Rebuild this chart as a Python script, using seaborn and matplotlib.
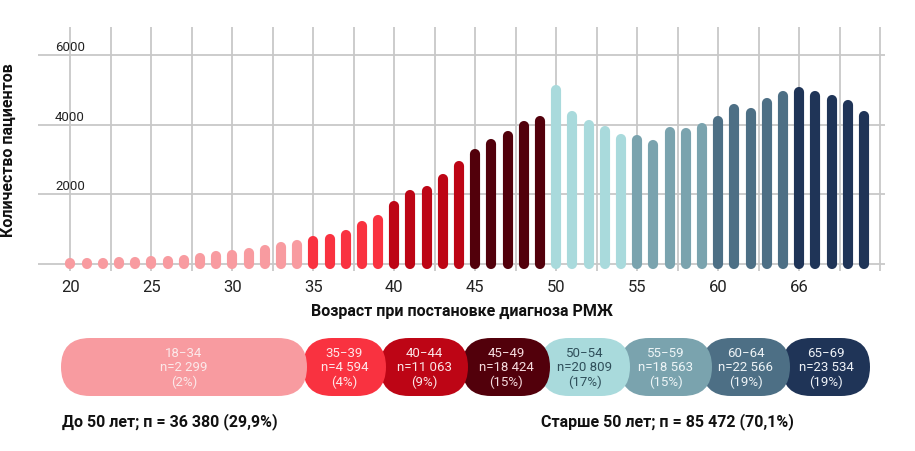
import numpy as np
import pandas as pd
import matplotlib
matplotlib.use("Agg")
import matplotlib.pyplot as plt
from matplotlib.patches import FancyBboxPatch
import seaborn as sns

ages = list(range(20, 70))
counts = [20, 30, 40, 50, 60, 80, 100, 130, 170, 220, 260, 320, 390, 480, 560,
          650, 730, 840, 1100, 1270,
          1680, 1970, 2110, 2430, 2820,
          3170, 3450, 3670, 3970, 4100,
          5000, 4240, 3990, 3830, 3580,
          3550, 3410, 3780, 3760, 3910,
          4120, 4450, 4350, 4640, 4830,
          4930, 4830, 4720, 4570, 4260]
group_labels = ["18−34", "35−39", "40−44", "45−49", "50−54", "55−59", "60−64", "65−69"]
group_n = ["2 299", "4 594", "11 063", "18 424", "20 809", "18 563", "22 566", "23 534"]
group_pct = ["2%", "4%", "9%", "15%", "17%", "15%", "19%", "19%"]
group_colors = ["#f89ba0", "#f93240", "#bd0515", "#52000b", "#a9dadc", "#7aa3ae", "#4d6f85", "#1f3457"]
text_colors = ["#fbe9ea", "#fde7e9", "#fbe5e7", "#f6dcdf", "#2f4f5a", "#eef5f7", "#eef3f6", "#eef2f7"]
xtick_pos = [20, 25, 30, 35, 40, 45, 50, 55, 60, 65]
xtick_labels = ["20", "25", "30", "35", "40", "45", "50", "55", "60", "66"]
ytick_vals = [2000, 4000, 6000]
summary_left = "До 50 лет; п = 36 380 (29,9%)"
summary_right = "Старше 50 лет; п = 85 472 (70,1%)"

def group_of(a):
    if a < 35:
        return 0
    return min((a - 35) // 5 + 1, 7)

df = pd.DataFrame({"age": ages, "count": counts})
df["grp"] = df["age"].apply(group_of)

sns.set_theme(style="white", rc={"font.family": "Roboto"})
fig = plt.figure(figsize=(9.15, 4.52), dpi=100)
ax = fig.add_axes([38/915, 1-272/452, (885-38)/915, 244/452])
ax.set_xlim(18, 70.3)
ax.set_ylim(-200, 6810)

grid_c = "#c8c8c8"
for gx in np.arange(20, 72.6, 2.5):
    ax.axvline(gx, color=grid_c, lw=1.3, zorder=0)
for gy in [0] + ytick_vals:
    ax.axhline(gy, color=grid_c, lw=1.3, zorder=0)

lc = ax.vlines(df["age"], 0, df["count"], colors=[group_colors[g] for g in df["grp"]],
               lw=7.3, zorder=3)
lc.set_capstyle("round")

for v in ytick_vals:
    ax.text(19.05, v + 60, str(v), fontsize=9.5, color="#222222", ha="left", va="bottom")
ax.set_yticks([])
ax.set_xticks(xtick_pos)
ax.set_xticklabels(xtick_labels, fontsize=12, color="#222222")
ax.tick_params(axis="x", length=0, pad=6)
for s in ax.spines.values():
    s.set_visible(False)
ax.set_xlabel("Возраст при постановке диагноза РМЖ", fontsize=11.5, fontweight="bold",
              color="#111111", labelpad=6)
ax.set_ylabel("Количество пациентов", fontsize=11.5, fontweight="bold", color="#111111", labelpad=16)

ov = fig.add_axes([0, 0, 1, 1], zorder=-1)
ov.set_xlim(0, 915)
ov.set_ylim(452, 0)
ov.axis("off")
spans = [(61, 307), (303, 386), (380, 468), (462, 550), (540, 630), (620, 712), (702, 790), (782, 870)]
y0, h = 339, 58
for i, (xa, xb) in enumerate(spans):
    p = FancyBboxPatch((xa, y0), xb - xa, h, boxstyle="round,pad=0,rounding_size=29",
                       fc=group_colors[i], ec="none", zorder=20 - i)
    ov.add_patch(p)
    cx = (xa + xb) / 2
    ov.text(cx, y0 + h / 2, f"{group_labels[i]}\nn={group_n[i]}\n({group_pct[i]})",
            ha="center", va="center", fontsize=9.5, color=text_colors[i],
            linespacing=1.15, zorder=30)
ov.text(62, 422, summary_left, fontsize=11.5, fontweight="bold", color="#111111", va="center")
ov.text(541, 422, summary_right, fontsize=11.5, fontweight="bold", color="#111111", va="center")

fig.savefig("out.png", dpi=100)
